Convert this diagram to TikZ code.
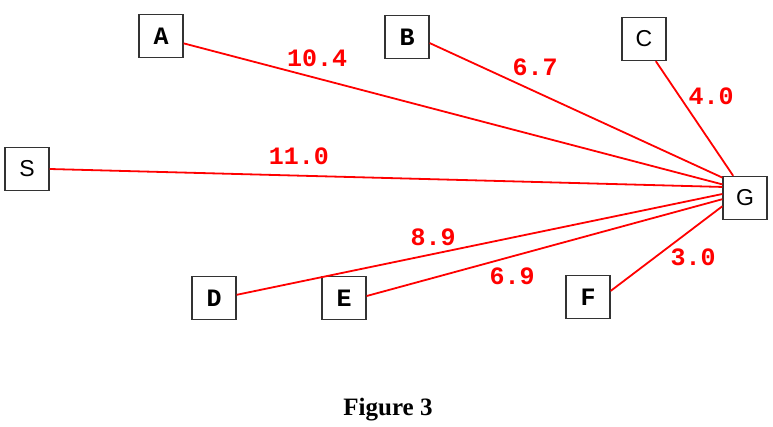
\documentclass[tikz,border=0pt]{standalone}
\usepackage{fontspec}
\setmainfont{Liberation Serif}
\newfontfamily\monob{Liberation Mono}
\newfontfamily\sansf{Liberation Sans}
\begin{document}
\begin{tikzpicture}[x=1pt,y=-1pt,
  box/.style={draw=black!80,line width=1.3pt,fill=white,minimum width=44pt,minimum height=43pt,inner sep=0pt},
  mletter/.style={font=\monob\bfseries\fontsize{25}{25}\selectfont},
  sletter/.style={font=\sansf\fontsize{23}{23}\selectfont},
  edge/.style={draw=red,line width=1.8pt},
  wlabel/.style={text=red,font=\monob\bfseries\fontsize{25}{25}\selectfont,inner sep=0pt}]
\useasboundingbox[fill=white] (0,0) rectangle (773,427);
\node[box,mletter] (A) at (161,36) {A};
\node[box,mletter] (B) at (407,37) {B};
\node[box,sletter] (C) at (644,39) {C};
\node[box,sletter] (S) at (27,169) {S};
\node[box,sletter] (G) at (745,198) {G};
\node[box,mletter] (D) at (214,298) {D};
\node[box,mletter] (E) at (344,298) {E};
\node[box,mletter] (F) at (588,297) {F};
\draw[edge] (A.-18) -- (G.149);
\draw[edge] (B.-15) -- (G.138);
\draw[edge] (C.-62) -- (G.118);
\draw[edge] (S.east) -- (G.154);
\draw[edge] (D.8) -- (G.170);
\draw[edge] (E.5) -- (G.-177);
\draw[edge] (F.15) -- (G.-160);
\node[wlabel] (lA) at (317,58) {10.4};
\node[wlabel] (lB) at (535,67) {6.7};
\node[wlabel] (lC) at (711,96) {4.0};
\node[wlabel] (lS) at (299,156) {11.0};
\node[wlabel] (lD) at (433,237) {8.9};
\node[wlabel] (lE) at (512,276) {6.9};
\node[wlabel] (lF) at (693,257) {3.0};
\node[font=\bfseries\fontsize{25}{25}\selectfont,inner sep=0pt] (cap) at (388,410) {Figure 3};
\end{tikzpicture}
\end{document}
